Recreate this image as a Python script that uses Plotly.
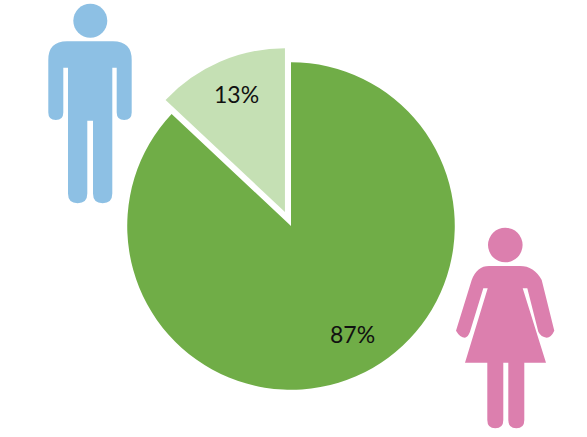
import re
import plotly.graph_objects as go

W, H = 587, 437

labels = ["Women", "Men"]
values = [87, 13]
colors = ["#70AD47", "#C5E0B4"]
pulls = [0, 0.093]

MAN_COLOR = "#8DC0E4"
WOMAN_COLOR = "#DC7FAE"

man_body = """M 67 41.3 L 113 41.3 Q 131.7 41.3 131.7 60 L 131.7 112.5 Q 131.7 120 124.2 120
Q 116.7 120 116.7 112.5 L 116.7 67.7 L 112.3 67.7 L 112.3 193.6 Q 112.3 203.3 102.6 203.3
Q 93 203.3 93 193.6 L 93 120.7 L 87.3 120.7 L 87.3 193.6 Q 87.3 203.3 77.6 203.3
Q 68 203.3 68 193.6 L 68 67.7 L 63.3 67.7 L 63.3 112.5 Q 63.3 120 55.8 120
Q 48.3 120 48.3 112.5 L 48.3 60 Q 48.3 41.3 67 41.3 Z"""

woman_body = """M 489 266 L 520 266 Q 534 266 541.7 280 L 554.3 330.7 Q 551 337.7 546.7 337.7 Q 541 337 538.3 331.7
L 527.3 288.3 L 522.7 288.3 L 546 362.7 L 524.3 362.7 L 524.3 420 Q 524.3 428.3 516.3 428.3
Q 508.3 428.3 508.3 420 L 508.3 362.7 L 503.3 362.7 L 503.3 420 Q 503.3 428.3 495.3 428.3
Q 487.3 428.3 487.3 420 L 487.3 362.7 L 465 362.7 L 487.7 288.3 L 483.3 288.3 L 470 331.7
Q 468 337 465 337.7 Q 460 337.7 456 330.7 L 471.7 280 Q 477 266 489 266 Z"""


def to_paper(path):
    # icon paths are written in screen pixels, shapes want paper fractions
    nums = iter(re.findall(r"[A-Z]|[\d.]+", path))
    out = []
    for tok in nums:
        if tok.isalpha():
            out.append(tok)
        else:
            out.append(f"{float(tok) / W:.5f},{1 - float(next(nums)) / H:.5f}")
    return " ".join(out)


def head(cx, cy, r, color):
    return dict(type="circle", xref="paper", yref="paper",
                x0=(cx - r) / W, x1=(cx + r) / W,
                y0=1 - (cy + r) / H, y1=1 - (cy - r) / H,
                fillcolor=color, line_width=0)


def icon(path, color):
    return dict(type="path", xref="paper", yref="paper", path=to_paper(path),
                fillcolor=color, line_width=0)


fig = go.Figure(go.Pie(
    labels=labels,
    values=values,
    pull=pulls,
    sort=False,
    direction="clockwise",
    rotation=0,
    textinfo="none",
    hoverinfo="label+percent",
    marker=dict(colors=colors, line=dict(color="#FFFFFF", width=0)),
    domain=dict(x=[112 / W, 470 / W], y=[32 / H, 390 / H]),
))

label_pos = [(352, 334), (236, 94)]
for val, (px, py) in zip(values, label_pos):
    fig.add_annotation(x=px / W, y=1 - py / H, xref="paper", yref="paper",
                       xanchor="center", yanchor="middle",
                       text=f"{val}%", showarrow=False,
                       font=dict(family="Lato", size=23, color="#111111"))

fig.update_layout(
    width=W, height=H,
    margin=dict(l=0, r=0, t=0, b=0),
    paper_bgcolor="#FFFFFF",
    showlegend=False,
    shapes=[
        head(90.3, 20.7, 17, MAN_COLOR),
        icon(man_body, MAN_COLOR),
        head(505.3, 245, 17.3, WOMAN_COLOR),
        icon(woman_body, WOMAN_COLOR),
    ],
)

fig.write_html("out.html", config=dict(displayModeBar=False),
               post_script="document.body.style.margin='0';")
